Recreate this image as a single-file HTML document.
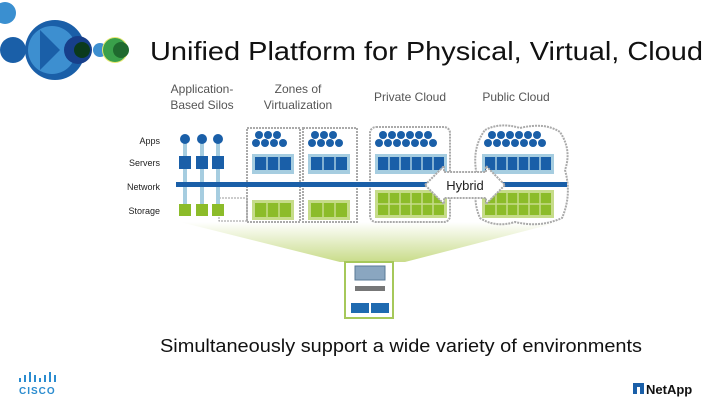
<!DOCTYPE html>
<html><head><meta charset="utf-8"><style>
html,body{margin:0;padding:0;background:#fff}
svg{display:block}
text{font-family:"Liberation Sans",sans-serif}
</style></head><body>
<svg width="720" height="405" viewBox="0 0 720 405" xmlns="http://www.w3.org/2000/svg">
<defs>
<linearGradient id="fan" x1="0" y1="0" x2="0" y2="1">
<stop offset="0" stop-color="#ffffff"/><stop offset="1" stop-color="#c9dc8a"/>
</linearGradient>
</defs>
<circle cx="5" cy="13" r="11" fill="#3a8fd0"/>
<circle cx="13" cy="50" r="13" fill="#1a5fa8"/>
<circle cx="55" cy="50" r="30" fill="#1a5fa8"/>
<circle cx="52" cy="50" r="24" fill="#3d8fd0"/>
<path d="M40 30 L60 50 L40 70 Z" fill="#1a5fa8"/>
<circle cx="78" cy="50" r="14" fill="#173f8a"/>
<circle cx="82" cy="50" r="8" fill="#0b3a1c"/>
<circle cx="100" cy="50" r="7" fill="#3d8fd0"/>
<circle cx="115" cy="50" r="13" fill="#e8e870"/>
<circle cx="115" cy="50" r="12" fill="#3aa04a"/>
<circle cx="121" cy="50" r="8" fill="#1f6a2e"/>
<text x="150" y="60" font-size="26" fill="#111" textLength="553" lengthAdjust="spacingAndGlyphs">Unified Platform for Physical, Virtual, Cloud</text>
<g font-size="12" fill="#555" text-anchor="middle">
<text x="202" y="93">Application-</text><text x="202" y="109">Based Silos</text>
<text x="298" y="93">Zones of</text><text x="298" y="109">Virtualization</text>
<text x="410" y="101">Private Cloud</text>
<text x="516" y="101">Public Cloud</text>
</g>
<g font-size="9" fill="#222" text-anchor="end">
<text x="160" y="144">Apps</text><text x="160" y="166">Servers</text>
<text x="160" y="190">Network</text><text x="160" y="214">Storage</text>
</g>
<path d="M180 222 L560 222 L405 262 L340 262 Z" fill="url(#fan)"/>
<rect x="345" y="262" width="48" height="56" fill="#fff" stroke="#a6c85a" stroke-width="2"/>
<rect x="355" y="266" width="30" height="14" fill="#8aa6c0" stroke="#5a7a96"/>
<rect x="355" y="286" width="30" height="5" fill="#777"/>
<rect x="351" y="303" width="18" height="10" fill="#1f6ab0"/>
<rect x="371" y="303" width="18" height="10" fill="#1f6ab0"/>
<rect x="219" y="198" width="28" height="23" fill="none" stroke="#999" stroke-dasharray="2,1"/>
<g fill="#a6cde0"><rect x="183" y="140" width="4" height="70"/><rect x="200" y="140" width="4" height="70"/><rect x="216" y="140" width="4" height="70"/></g>
<g fill="#1a5fa8"><circle cx="185" cy="139" r="5"/><circle cx="202" cy="139" r="5"/><circle cx="218" cy="139" r="5"/>
<rect x="179" y="156" width="12" height="13"/><rect x="196" y="156" width="12" height="13"/><rect x="212" y="156" width="12" height="13"/></g>
<g fill="#8cbc2a"><rect x="179" y="204" width="12" height="12"/><rect x="196" y="204" width="12" height="12"/><rect x="212" y="204" width="12" height="12"/></g>
<g fill="none" stroke="#aaa" stroke-width="2" stroke-dasharray="2,1">
<rect x="247" y="128" width="53" height="94"/><rect x="303" y="128" width="54" height="94"/>
<rect x="370" y="127" width="80" height="95" rx="6"/>
<path d="M485 130 Q500 122 520 128 Q545 122 560 132 Q572 150 565 170 Q572 195 562 218 Q540 228 515 222 Q495 228 480 218 Q472 200 478 180 Q470 150 485 130 Z"/>
</g>
<g id="z1">
<g fill="#1a5fa8">
<circle cx="259" cy="135" r="4"/><circle cx="268" cy="135" r="4"/><circle cx="277" cy="135" r="4"/>
<circle cx="256" cy="143" r="4"/><circle cx="265" cy="143" r="4"/><circle cx="274" cy="143" r="4"/><circle cx="283" cy="143" r="4"/>
</g>
<rect x="252" y="154" width="42" height="20" fill="#a6cde0"/>
<rect x="255" y="157" width="36" height="13" fill="#1a5fa8"/>
<rect x="252" y="200" width="42" height="20" fill="#c6dc8a"/>
<rect x="255" y="203" width="36" height="14" fill="#8cbc2a"/>
<g stroke="#c6dc8a" stroke-width="1.5"><line x1="267" y1="203" x2="267" y2="217"/><line x1="279" y1="203" x2="279" y2="217"/></g>
<g stroke="#a6cde0" stroke-width="1.5"><line x1="267" y1="157" x2="267" y2="170"/><line x1="279" y1="157" x2="279" y2="170"/></g>
</g>
<use href="#z1" x="56"/>
<g fill="#1a5fa8">
<circle cx="383" cy="135" r="4"/><circle cx="392" cy="135" r="4"/><circle cx="401" cy="135" r="4"/><circle cx="410" cy="135" r="4"/><circle cx="419" cy="135" r="4"/><circle cx="428" cy="135" r="4"/>
<circle cx="379" cy="143" r="4"/><circle cx="388" cy="143" r="4"/><circle cx="397" cy="143" r="4"/><circle cx="406" cy="143" r="4"/><circle cx="415" cy="143" r="4"/><circle cx="424" cy="143" r="4"/><circle cx="433" cy="143" r="4"/>
</g>
<rect x="375" y="154" width="72" height="20" fill="#a6cde0"/>
<rect x="378" y="157" width="66" height="13" fill="#1a5fa8"/>
<rect x="375" y="190" width="72" height="28" fill="#c6dc8a"/>
<rect x="378" y="193" width="66" height="22" fill="#8cbc2a"/>
<g fill="#1a5fa8">
<circle cx="492" cy="135" r="4"/><circle cx="501" cy="135" r="4"/><circle cx="510" cy="135" r="4"/><circle cx="519" cy="135" r="4"/><circle cx="528" cy="135" r="4"/><circle cx="537" cy="135" r="4"/>
<circle cx="488" cy="143" r="4"/><circle cx="497" cy="143" r="4"/><circle cx="506" cy="143" r="4"/><circle cx="515" cy="143" r="4"/><circle cx="524" cy="143" r="4"/><circle cx="533" cy="143" r="4"/><circle cx="542" cy="143" r="4"/>
</g>
<rect x="482" y="154" width="72" height="20" fill="#a6cde0"/>
<rect x="485" y="157" width="66" height="13" fill="#1a5fa8"/>
<rect x="482" y="190" width="72" height="28" fill="#c6dc8a"/>
<rect x="485" y="193" width="66" height="22" fill="#8cbc2a"/>
<g stroke="#a6cde0" stroke-width="1.5">
<line x1="389" y1="157" x2="389" y2="170"/><line x1="400" y1="157" x2="400" y2="170"/><line x1="411" y1="157" x2="411" y2="170"/><line x1="422" y1="157" x2="422" y2="170"/><line x1="433" y1="157" x2="433" y2="170"/>
<line x1="496" y1="157" x2="496" y2="170"/><line x1="507" y1="157" x2="507" y2="170"/><line x1="518" y1="157" x2="518" y2="170"/><line x1="529" y1="157" x2="529" y2="170"/><line x1="540" y1="157" x2="540" y2="170"/>
</g>
<g stroke="#c6dc8a" stroke-width="1.5">
<line x1="378" y1="204" x2="444" y2="204"/><line x1="485" y1="204" x2="551" y2="204"/>
<line x1="389" y1="193" x2="389" y2="215"/><line x1="400" y1="193" x2="400" y2="215"/><line x1="411" y1="193" x2="411" y2="215"/><line x1="422" y1="193" x2="422" y2="215"/><line x1="433" y1="193" x2="433" y2="215"/>
<line x1="496" y1="193" x2="496" y2="215"/><line x1="507" y1="193" x2="507" y2="215"/><line x1="518" y1="193" x2="518" y2="215"/><line x1="529" y1="193" x2="529" y2="215"/><line x1="540" y1="193" x2="540" y2="215"/>
</g>
<rect x="176" y="182" width="391" height="5" fill="#1a5fa8"/>
<path d="M425 185 L444 166 L444 172 L486 172 L486 166 L505 185 L486 204 L486 198 L444 198 L444 204 Z" fill="#fff" stroke="#aaa" stroke-width="2" stroke-dasharray="2,1"/>
<text x="465" y="190" font-size="13" fill="#222" text-anchor="middle">Hybrid</text>
<text x="160" y="352" font-size="18.5" fill="#111" textLength="482" lengthAdjust="spacingAndGlyphs">Simultaneously support a wide variety of environments</text>
<g fill="#2b8ccf">
<rect x="19" y="378" width="2" height="4"/><rect x="24" y="375" width="2" height="7"/><rect x="29" y="372" width="2" height="10"/><rect x="34" y="375" width="2" height="7"/><rect x="39" y="378" width="2" height="4"/><rect x="44" y="375" width="2" height="7"/><rect x="49" y="372" width="2" height="10"/><rect x="54" y="375" width="2" height="7"/>
</g>
<text x="19" y="394" font-size="10" font-weight="bold" fill="#2b8ccf" letter-spacing="1">CISCO</text>
<rect x="633" y="383" width="11" height="11" fill="#1a5fa8"/>
<rect x="637" y="387" width="3" height="7" fill="#fff"/>
<text x="646" y="394" font-size="13" font-weight="bold" fill="#111">NetApp</text>
</svg>
</body></html>
